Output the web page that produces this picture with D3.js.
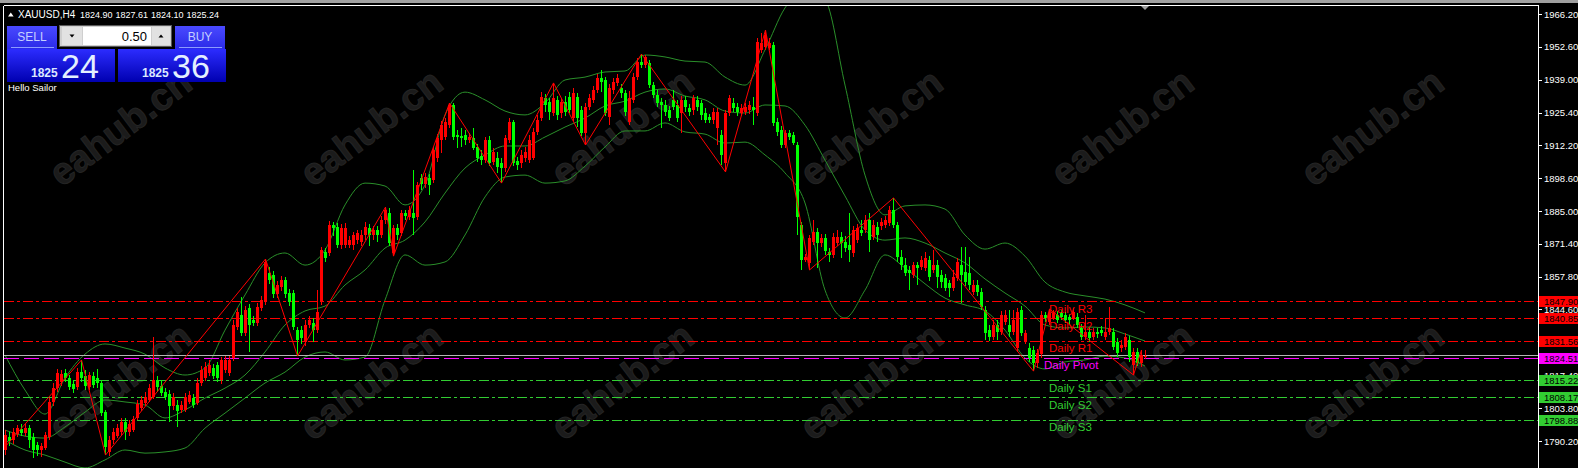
<!DOCTYPE html>
<html><head><meta charset="utf-8">
<script src="https://cdn.jsdelivr.net/npm/d3@7"></script>
<style>
html,body{margin:0;padding:0;background:#000;overflow:hidden}
svg{display:block}
text{font-family:"Liberation Sans",Arial,sans-serif}
</style></head><body>
<svg id="c" width="1578" height="468"></svg>
<script>
// ---------------- DATA ----------------
const symbol = "XAUUSD,H4";
const lastOHLC = [1824.90, 1827.61, 1824.10, 1825.24];
const bidPrice = 1825.24;
const lotSize = "0.50";
const sellQuote = ["1825", "24"];
const buyQuote = ["1825", "36"];
const panelCaption = "Hello Sailor";

// H4 candles, [open, high, low, close]
const ohlc = [
[1786.5,1794.7,1784.4,1792.7],[1791.8,1793.9,1788.1,1790.2],[1790.6,1795.5,1789.0,1793.9],[1793.1,1796.8,1791.8,1795.5],[1795.1,1797.2,1792.2,1793.5],
[1793.5,1797.2,1792.2,1795.5],[1795.5,1796.8,1787.3,1790.6],[1791.8,1793.5,1783.2,1786.5],[1788.5,1789.8,1784.0,1786.5],[1786.5,1789.4,1783.6,1788.1],
[1787.3,1793.9,1786.5,1792.7],[1791.8,1807.9,1790.6,1806.3],[1806.3,1814.1,1804.6,1812.0],[1812.0,1819.9,1810.4,1818.2],[1814.5,1819.5,1812.9,1817.8],
[1818.2,1819.9,1814.5,1816.2],[1816.2,1817.4,1811.2,1812.4],[1813.7,1815.3,1810.0,1811.6],[1812.4,1820.3,1811.2,1818.6],[1818.6,1823.6,1814.5,1816.2],
[1817.0,1819.5,1811.2,1812.9],[1812.4,1818.6,1811.2,1817.4],[1817.0,1818.6,1812.0,1813.3],[1816.2,1819.9,1812.0,1814.1],[1814.1,1815.3,1800.5,1801.7],
[1802.1,1803.0,1784.4,1787.7],[1785.7,1792.2,1784.0,1790.6],[1790.6,1795.5,1789.0,1793.9],[1792.2,1797.2,1791.4,1795.5],[1793.9,1799.7,1792.7,1798.0],
[1798.0,1799.7,1790.6,1793.9],[1793.9,1798.9,1792.2,1797.2],[1794.7,1800.5,1793.9,1799.3],[1799.7,1807.1,1798.9,1805.4],[1803.8,1808.7,1802.6,1807.1],
[1805.9,1810.4,1804.6,1808.3],[1807.1,1813.7,1806.3,1812.0],[1808.3,1833.1,1807.5,1815.3],[1815.3,1817.0,1810.4,1812.4],[1812.9,1815.3,1808.7,1810.0],
[1810.4,1812.0,1807.1,1808.3],[1809.6,1811.2,1798.0,1804.6],[1804.6,1810.0,1803.0,1808.3],[1805.0,1807.1,1796.0,1802.6],[1803.0,1806.7,1801.7,1805.0],
[1803.0,1810.0,1802.1,1808.3],[1806.3,1810.8,1805.4,1809.2],[1807.9,1809.6,1803.8,1805.0],[1805.9,1816.2,1805.0,1814.1],[1814.1,1821.1,1812.9,1819.5],
[1816.2,1822.8,1814.9,1820.7],[1818.2,1823.6,1817.0,1821.5],[1820.3,1821.9,1815.7,1817.0],[1821.5,1822.8,1814.5,1816.2],[1815.3,1824.8,1813.7,1823.6],
[1819.5,1825.2,1818.2,1823.6],[1818.2,1825.2,1817.0,1823.6],[1824.4,1840.1,1823.2,1838.0],[1837.2,1845.0,1835.9,1843.4],[1842.0,1849.6,1833.5,1834.7],
[1834.7,1845.8,1833.5,1844.2],[1845.0,1846.7,1826.9,1838.0],[1840.1,1841.7,1837.6,1838.8],[1838.8,1847.1,1837.6,1845.4],[1845.0,1850.0,1843.8,1848.3],
[1847.5,1865.2,1846.3,1864.0],[1859.4,1861.9,1854.9,1856.6],[1858.6,1860.3,1849.1,1850.8],[1850.8,1856.1,1849.1,1854.5],[1853.7,1858.2,1852.0,1856.6],
[1856.6,1857.8,1849.1,1850.8],[1851.2,1852.8,1845.8,1847.5],[1851.2,1852.4,1835.9,1837.2],[1835.9,1837.2,1825.2,1831.8],[1835.9,1837.6,1830.2,1832.6],
[1831.0,1840.1,1829.3,1838.0],[1838.0,1841.7,1836.8,1840.1],[1838.8,1840.9,1831.0,1835.9],[1835.9,1852.4,1834.7,1843.4],[1847.5,1870.2,1846.3,1868.9],
[1868.1,1869.7,1864.0,1865.6],[1867.7,1880.9,1866.4,1879.2],[1879.2,1880.5,1874.7,1878.0],[1878.4,1880.1,1869.7,1871.0],[1871.0,1879.6,1869.3,1878.0],
[1871.0,1880.1,1869.7,1878.0],[1871.0,1874.7,1869.7,1873.0],[1871.0,1876.3,1868.9,1875.1],[1873.0,1877.2,1871.4,1875.9],[1872.2,1877.2,1870.6,1875.1],
[1875.1,1880.5,1873.0,1878.4],[1878.0,1879.6,1870.6,1875.1],[1875.1,1878.8,1873.0,1877.2],[1877.2,1878.8,1872.2,1875.1],[1875.1,1882.9,1873.9,1881.3],
[1881.3,1886.6,1879.6,1885.4],[1884.2,1886.2,1870.6,1871.8],[1867.7,1879.2,1866.4,1878.0],[1878.0,1879.6,1873.0,1875.1],[1875.9,1885.4,1874.7,1884.2],
[1884.2,1885.4,1881.3,1883.0],[1882.6,1887.1,1881.3,1885.4],[1884.2,1901.9,1875.1,1882.1],[1882.6,1897.0,1881.3,1895.7],[1898.6,1900.2,1893.6,1896.1],
[1896.1,1900.6,1894.5,1899.0],[1898.6,1900.2,1891.6,1895.7],[1897.8,1911.4,1896.5,1910.1],[1906.8,1916.7,1905.2,1915.1],[1914.3,1922.1,1908.9,1920.4],
[1915.5,1923.3,1914.3,1921.7],[1920.4,1929.5,1919.2,1928.7],[1928.7,1929.5,1914.3,1915.5],[1916.3,1918.4,1911.0,1915.5],[1915.9,1919.2,1911.4,1915.1],
[1916.3,1918.4,1912.2,1914.3],[1914.3,1917.2,1913.0,1915.5],[1915.1,1919.2,1910.1,1911.0],[1911.4,1912.6,1905.2,1906.8],[1907.6,1910.1,1904.0,1906.0],
[1906.0,1915.5,1904.8,1914.3],[1914.3,1915.9,1903.6,1904.8],[1905.2,1911.0,1904.0,1909.3],[1906.8,1909.3,1900.7,1903.1],[1904.8,1906.8,1896.5,1902.7],
[1902.7,1916.3,1901.1,1915.1],[1914.3,1923.3,1913.0,1921.7],[1921.7,1922.5,1903.6,1904.8],[1905.6,1907.3,1901.9,1904.0],[1904.8,1910.1,1902.7,1908.1],
[1906.8,1911.4,1905.2,1909.3],[1906.0,1916.3,1904.8,1914.3],[1906.8,1919.2,1906.0,1917.6],[1917.6,1924.6,1916.3,1922.5],[1923.3,1934.0,1922.1,1932.0],
[1931.6,1933.2,1925.8,1928.7],[1929.9,1931.6,1922.5,1925.8],[1925.4,1937.8,1924.2,1931.6],[1930.8,1932.4,1922.5,1924.6],[1925.4,1931.6,1923.3,1929.9],
[1929.9,1932.4,1924.2,1925.8],[1932.0,1934.0,1925.4,1926.6],[1923.3,1935.7,1922.1,1933.6],[1932.0,1933.6,1919.6,1923.3],[1926.6,1928.3,1915.9,1917.1],
[1917.1,1929.5,1912.2,1927.9],[1927.9,1933.2,1926.6,1931.6],[1930.8,1936.6,1929.5,1934.9],[1934.9,1941.5,1933.6,1939.8],[1939.8,1943.1,1934.0,1938.2],
[1939.0,1940.3,1924.2,1925.4],[1923.7,1937.3,1920.4,1935.7],[1934.9,1939.8,1933.2,1938.2],[1937.8,1941.5,1936.5,1939.8],[1935.7,1937.3,1931.6,1933.6],
[1933.6,1934.9,1924.2,1925.8],[1921.7,1934.5,1920.4,1931.6],[1930.8,1941.9,1929.5,1940.2],[1940.2,1948.1,1939.0,1946.4],[1946.4,1949.7,1944.0,1945.2],
[1945.2,1949.3,1944.0,1948.5],[1946.0,1947.2,1935.7,1936.9],[1936.9,1938.2,1931.6,1932.8],[1932.8,1934.9,1927.9,1929.5],[1929.9,1931.6,1919.2,1928.7],
[1928.7,1930.8,1924.2,1925.8],[1926.6,1928.3,1922.1,1923.3],[1930.8,1934.9,1926.6,1927.9],[1928.7,1930.8,1921.7,1923.3],[1925.4,1932.4,1917.1,1930.8],
[1930.8,1932.4,1925.8,1927.9],[1927.5,1929.1,1924.2,1925.8],[1926.6,1932.8,1924.6,1931.6],[1930.8,1932.4,1926.2,1927.9],[1929.5,1930.8,1922.5,1924.6],
[1925.4,1927.5,1921.3,1922.5],[1923.7,1925.0,1921.3,1922.5],[1922.5,1927.5,1920.9,1925.8],[1919.2,1927.5,1912.2,1925.8],[1916.3,1918.4,1904.0,1908.1],
[1904.8,1926.6,1901.1,1925.4],[1925.4,1932.8,1924.2,1931.6],[1929.5,1931.6,1925.8,1927.5],[1927.9,1929.5,1924.2,1925.8],[1925.4,1929.1,1924.2,1927.5],
[1925.8,1929.5,1924.6,1927.9],[1926.6,1930.3,1925.0,1928.7],[1927.9,1932.0,1920.4,1926.6],[1925.4,1956.3,1924.2,1954.7],[1951.4,1958.4,1950.1,1954.2],
[1952.6,1959.6,1951.4,1957.5],[1952.2,1956.3,1951.4,1954.2],[1953.4,1954.7,1920.0,1921.3],[1921.7,1923.3,1915.9,1917.6],[1918.4,1920.0,1911.0,1912.2],
[1912.2,1918.4,1911.0,1917.1],[1917.1,1918.4,1914.3,1915.5],[1916.3,1917.6,1912.2,1913.0],[1912.2,1913.4,1875.1,1882.5],[1879.2,1880.5,1860.7,1864.8],
[1864.8,1867.3,1864.0,1866.0],[1863.6,1875.1,1860.7,1873.9],[1872.2,1881.3,1871.0,1876.3],[1876.3,1878.0,1861.5,1871.8],[1871.8,1875.5,1870.2,1873.9],
[1873.9,1875.5,1866.8,1868.5],[1868.1,1869.7,1864.0,1866.9],[1867.0,1876.0,1865.6,1874.3],[1871.8,1877.2,1870.6,1874.3],[1874.3,1876.3,1865.6,1871.8],
[1872.2,1874.7,1868.1,1869.7],[1871.0,1884.2,1864.0,1868.9],[1867.7,1878.8,1866.0,1877.2],[1873.0,1879.6,1871.8,1878.0],[1877.2,1881.3,1874.7,1875.9],
[1877.2,1883.4,1875.9,1881.3],[1881.3,1884.2,1868.1,1873.0],[1874.3,1881.3,1873.0,1879.2],[1878.4,1880.5,1872.2,1875.1],[1878.8,1882.1,1877.2,1880.5],
[1879.2,1882.9,1878.0,1881.3],[1880.1,1887.1,1878.8,1885.4],[1885.4,1890.4,1878.0,1879.2],[1879.2,1880.5,1864.0,1866.0],[1866.0,1868.9,1860.7,1862.7],
[1862.7,1865.6,1858.2,1859.4],[1860.7,1862.3,1852.4,1859.4],[1858.6,1864.0,1857.4,1862.7],[1862.7,1864.0,1854.5,1861.5],[1861.9,1866.4,1860.7,1864.8],
[1861.5,1868.1,1860.3,1865.6],[1864.8,1866.4,1856.1,1857.8],[1860.7,1868.9,1859.4,1862.7],[1862.7,1864.8,1853.2,1857.8],[1858.6,1860.7,1853.2,1855.7],
[1857.4,1859.0,1852.0,1853.4],[1855.3,1856.6,1849.6,1853.2],[1853.2,1860.7,1852.0,1857.8],[1857.4,1865.6,1856.1,1864.0],[1862.7,1870.2,1847.1,1858.6],
[1859.9,1870.2,1854.1,1855.7],[1859.4,1866.0,1852.4,1854.5],[1851.6,1856.6,1850.4,1854.5],[1854.5,1856.6,1850.0,1851.6],[1851.6,1853.2,1844.2,1845.4],
[1844.2,1845.8,1831.8,1834.7],[1835.9,1838.0,1831.4,1833.1],[1833.1,1840.1,1831.8,1838.0],[1838.0,1840.1,1831.8,1835.1],[1835.1,1843.8,1833.9,1842.1],
[1839.2,1844.2,1838.0,1842.1],[1838.0,1844.2,1833.1,1835.1],[1835.1,1844.2,1833.9,1840.1],[1828.5,1845.0,1826.9,1843.4],[1844.2,1845.8,1833.5,1834.7],
[1831.0,1835.9,1830.2,1834.7],[1828.7,1830.4,1822.8,1824.4],[1827.7,1829.3,1819.0,1822.3],[1822.3,1828.1,1820.3,1826.4],[1826.0,1843.8,1824.4,1842.1],
[1842.1,1843.4,1839.2,1840.9],[1839.2,1844.6,1838.0,1843.0],[1840.9,1844.2,1840.1,1843.0],[1842.1,1843.8,1838.8,1840.1],[1843.0,1844.2,1840.1,1841.3],
[1842.1,1843.4,1838.8,1840.1],[1841.3,1842.6,1838.4,1840.1],[1840.9,1845.0,1840.1,1843.4],[1841.3,1843.0,1836.8,1838.0],[1836.8,1838.4,1831.8,1833.1],
[1833.1,1842.1,1831.8,1835.1],[1835.1,1836.8,1831.0,1832.6],[1833.1,1836.8,1831.8,1835.1],[1835.1,1836.8,1832.6,1834.3],[1835.9,1837.6,1833.5,1834.7],
[1833.1,1840.9,1831.8,1835.1],[1835.1,1845.4,1833.9,1836.8],[1835.1,1836.8,1827.7,1828.9],[1831.0,1832.6,1824.8,1826.4],[1828.5,1831.8,1826.9,1829.7],
[1828.9,1834.7,1827.7,1833.1],[1831.8,1833.5,1822.8,1824.8],[1821.5,1828.5,1817.4,1826.9],[1826.9,1828.5,1821.1,1822.3],[1822.3,1827.7,1820.7,1825.6],
[1824.90,1827.61,1824.10,1825.24]
];

// Bollinger bands read at every 5th bar
const bandIndex = [0,5,10,15,20,25,30,35,40,45,50,55,60,65,70,75,80,85,90,95,100,105,110,115,120,125,130,135,140,145,150,155,160,165,170,175,180,185,190,195,200,205,210,215,220,225,230,235,240,245,250,255,260,265,270,275,280,285];
const bandUpper = [1825.6,1811.2,1801.3,1816.2,1826.0,1830.2,1828.5,1826.0,1820.3,1817.4,1820.3,1835.9,1850.4,1863.6,1867.7,1862.7,1868.9,1887.5,1896.5,1895.3,1887.5,1895.7,1924.6,1934.0,1930.8,1926.2,1924.6,1929.5,1939.0,1940.2,1942.3,1942.7,1949.3,1948.5,1946.8,1946.4,1940.2,1936.9,1951.4,1968.7,1976.1,1972.0,1936.9,1899.8,1883.4,1887.1,1887.5,1885.8,1875.1,1869.3,1871.8,1866.4,1855.7,1851.6,1850.0,1848.7,1846.3,1843.0];
const bandMiddle = [1794.7,1792.2,1791.4,1796.0,1802.1,1807.1,1806.3,1805.0,1799.7,1803.0,1807.9,1812.0,1817.4,1826.9,1838.0,1843.8,1845.8,1854.5,1860.7,1869.7,1873.0,1880.5,1892.4,1902.7,1908.1,1911.8,1911.8,1915.5,1919.6,1923.3,1928.3,1930.3,1934.0,1935.3,1932.4,1930.8,1926.2,1925.4,1928.7,1928.3,1920.4,1906.0,1891.2,1877.2,1873.0,1873.9,1871.8,1867.7,1863.6,1857.0,1851.2,1845.8,1838.0,1836.8,1837.2,1836.8,1834.3,1831.4];
const bandLower = [1790.6,1786.5,1784.4,1781.5,1779.1,1782.4,1786.5,1785.2,1785.7,1787.3,1795.5,1801.7,1807.9,1814.1,1818.6,1824.8,1826.9,1823.6,1824.8,1848.3,1866.9,1862.7,1864.0,1875.1,1890.8,1899.0,1899.8,1896.5,1897.4,1903.5,1911.4,1918.0,1918.0,1921.3,1917.6,1916.7,1913.0,1913.4,1908.1,1900.7,1888.3,1852.4,1840.9,1852.4,1866.9,1861.5,1855.0,1849.1,1846.3,1843.8,1835.9,1824.4,1819.9,1822.8,1823.6,1825.2,1824.4,1821.1];

// ZigZag pivots [bar index, price]
const zigzag = [[0,1788.0],[19,1823.6],[25,1784.4],[65,1865.2],[73,1825.2],[95,1886.6],[97,1866.4],[111,1929.5],[124,1896.5],[137,1937.8],[145,1912.2],[159,1949.7],[180,1901.1],[190,1959.6],[201,1860.7],[222,1890.4],[257,1819.0],[261,1844.6],[282,1817.4],[284,1827.7]];

// Daily pivot levels
const pivotNames = ["Daily R3","Daily R2","Daily R1","Daily Pivot","Daily S1","Daily S2","Daily S3"];
const pivotValues = [1847.90,1840.85,1831.56,1824.51,1815.22,1808.17,1798.88];

// price axis tick labels
const tickValues = [1966.20,1952.60,1939.00,1925.40,1912.20,1898.60,1885.00,1871.40,1857.80,1844.60,1831.00,1817.40,1803.80,1790.20];

// ---------------- DRAW ----------------
const W = 1578, H = 468;
const AXIS_X = 1538;
const svg = d3.select('#c');
const x = d3.scaleLinear().domain([0, ohlc.length - 1]).range([5, 1145]);
const y = d3.scaleLinear().domain([1790.2, 1966.2]).range([441, 14]);

const levelColor = n => n.includes('Pivot') ? '#ff00ff' : (n.includes(' R') ? '#ff0000' : '#32cd32');
const levelDash = n => n.includes('Pivot') ? '15,5' : '10,3,3,3';

const defs = svg.append('defs');
defs.append('clipPath').attr('id', 'plot').append('rect')
  .attr('x', 4).attr('y', 6).attr('width', AXIS_X - 4).attr('height', H - 6);
function grad(id, c1, c2) {
  const g = defs.append('linearGradient').attr('id', id).attr('x1', 0).attr('y1', 0).attr('x2', 0).attr('y2', 1);
  g.append('stop').attr('offset', '0%').attr('stop-color', c1);
  g.append('stop').attr('offset', '100%').attr('stop-color', c2);
}
grad('btnG', '#4a4aff', '#2a2ae8');
grad('priceG', '#2c2cff', '#0000b0');

svg.append('rect').attr('width', W).attr('height', H).attr('fill', '#000');
svg.append('rect').attr('x', 0).attr('y', 0).attr('width', W).attr('height', 3).attr('fill', '#a0a0a0');

const plot = svg.append('g').attr('clip-path', 'url(#plot)');

// watermarks
const wmCols = [120, 371, 622, 871, 1122, 1372], wmRows = [127, 381];
wmRows.forEach(r => wmCols.forEach(c => {
  plot.append('text').attr('transform', `translate(${c},${r}) rotate(-37)`)
    .attr('text-anchor', 'middle').attr('dy', '0.35em')
    .attr('font-size', 38).attr('font-weight', 'bold')
    .attr('fill', '#1b1b1b').attr('stroke', '#242424').attr('stroke-width', 1)
    .text('eahub.cn');
}));

// bollinger bands
const bandLine = d3.line().x((d, k) => x(bandIndex[k])).y(d => y(d)).curve(d3.curveMonotoneX);
[bandUpper, bandMiddle, bandLower].forEach(b => {
  plot.append('path').datum(b).attr('d', bandLine)
    .attr('fill', 'none').attr('stroke', '#2a8f2a').attr('stroke-width', 1);
});

// pivot lines
plot.selectAll('line.lvl').data(pivotValues).join('line').attr('class', 'lvl')
  .attr('x1', 4).attr('x2', AXIS_X)
  .attr('y1', d => Math.round(y(d)) + 0.5).attr('y2', d => Math.round(y(d)) + 0.5)
  .attr('stroke', (d, i) => levelColor(pivotNames[i]))
  .attr('stroke-dasharray', (d, i) => levelDash(pivotNames[i]))
  .attr('stroke-width', 1).attr('shape-rendering', 'crispEdges');

// bid line
plot.append('line').attr('x1', 4).attr('x2', AXIS_X)
  .attr('y1', Math.round(y(bidPrice)) - 0.5).attr('y2', Math.round(y(bidPrice)) - 0.5)
  .attr('stroke', '#b4b4b4').attr('stroke-width', 1).attr('shape-rendering', 'crispEdges');

// candles
const cg = plot.append('g').attr('shape-rendering', 'crispEdges');
const col = d => d[3] >= d[0] ? '#ff0000' : '#00ff00';
cg.selectAll('rect.wick').data(ohlc).join('rect').attr('class', 'wick')
  .attr('x', (d, i) => Math.round(x(i)))
  .attr('y', d => Math.round(y(d[1])))
  .attr('width', 1)
  .attr('height', d => Math.max(1, Math.round(y(d[2])) - Math.round(y(d[1]))))
  .attr('fill', col);
cg.selectAll('rect.body').data(ohlc).join('rect').attr('class', 'body')
  .attr('x', (d, i) => Math.round(x(i)) - 1)
  .attr('y', d => Math.round(y(Math.max(d[0], d[3]))))
  .attr('width', 3)
  .attr('height', d => Math.max(1, Math.round(y(Math.min(d[0], d[3]))) - Math.round(y(Math.max(d[0], d[3])))))
  .attr('fill', col);

// zigzag
plot.append('path').datum(zigzag)
  .attr('d', d3.line().x(d => x(d[0]) + 0.5).y(d => y(d[1])))
  .attr('fill', 'none').attr('stroke', '#ff0000').attr('stroke-width', 1);

// pivot labels
plot.selectAll('text.lvl').data(pivotValues).join('text').attr('class', 'lvl')
  .attr('x', (d, i) => pivotNames[i].includes('Pivot') ? 1044 : 1049)
  .attr('y', d => y(d) + 11.5)
  .attr('font-size', 11.5)
  .attr('fill', (d, i) => levelColor(pivotNames[i]))
  .text((d, i) => pivotNames[i]);

// chart shift marker
svg.append('path').attr('d', 'M1140,5 L1150,5 L1145,10 Z').attr('fill', '#a0a0a0');

// frame
const frame = svg.append('g').attr('stroke', '#ffffff').attr('stroke-width', 1).attr('shape-rendering', 'crispEdges');
frame.append('line').attr('x1', 3.5).attr('x2', AXIS_X + 0.5).attr('y1', 5.5).attr('y2', 5.5);
frame.append('line').attr('x1', 3.5).attr('x2', 3.5).attr('y1', 5.5).attr('y2', H);
frame.append('line').attr('x1', AXIS_X + 0.5).attr('x2', AXIS_X + 0.5).attr('y1', 5.5).attr('y2', H);

// price axis
const ax = svg.append('g');
ax.selectAll('line').data(tickValues).join('line')
  .attr('x1', AXIS_X + 1).attr('x2', AXIS_X + 4)
  .attr('y1', d => Math.round(y(d)) + 0.5).attr('y2', d => Math.round(y(d)) + 0.5)
  .attr('stroke', '#fff').attr('shape-rendering', 'crispEdges');
ax.selectAll('text').data(tickValues).join('text')
  .attr('x', AXIS_X + 6).attr('y', d => y(d) + 3.5)
  .attr('font-size', 9.5).attr('fill', '#ffffff')
  .text(d => d.toFixed(2));

// level boxes on axis
const bx = svg.append('g');
bx.selectAll('rect').data(pivotValues).join('rect')
  .attr('x', AXIS_X + 1).attr('y', d => Math.round(y(d)) - 5)
  .attr('width', W - AXIS_X - 1).attr('height', 11)
  .attr('fill', (d, i) => levelColor(pivotNames[i]));
bx.selectAll('text').data(pivotValues).join('text')
  .attr('x', AXIS_X + 6).attr('y', d => Math.round(y(d)) + 4)
  .attr('font-size', 9.5).attr('fill', '#000')
  .text(d => d.toFixed(2));

// header
svg.append('path').attr('d', 'M8,16.5 L10.8,12.5 L13.6,16.5 Z').attr('fill', '#fff');
svg.append('text').attr('x', 18).attr('y', 18).attr('font-size', 10).attr('fill', '#fff').text(symbol);
const hx = [80, 115.5, 151, 186.5];
lastOHLC.forEach((v, i) => svg.append('text').attr('x', hx[i]).attr('y', 18)
  .attr('font-size', 9).attr('fill', '#fff').text(v.toFixed(2)));

// one-click trading panel
const p = svg.append('g');
function button(x0, label) {
  p.append('rect').attr('x', x0).attr('y', 26).attr('width', 50).attr('height', 23).attr('fill', 'url(#btnG)');
  p.append('line').attr('x1', x0 + 4).attr('x2', x0 + 47).attr('y1', 47.5).attr('y2', 47.5)
    .attr('stroke', '#8c9cff').attr('shape-rendering', 'crispEdges');
  p.append('text').attr('x', x0 + 25).attr('y', 41).attr('text-anchor', 'middle')
    .attr('font-size', 12).attr('fill', '#c4d0ff').text(label);
}
button(7, 'SELL');
button(175, 'BUY');
p.append('rect').attr('x', 59.5).attr('y', 25.5).attr('width', 112).attr('height', 21)
  .attr('fill', '#cfcfcf').attr('stroke', '#5a5a5a');
p.append('rect').attr('x', 62).attr('y', 27).attr('width', 20).attr('height', 18).attr('fill', '#e2e2e2');
p.append('rect').attr('x', 83).attr('y', 27).attr('width', 68).attr('height', 18).attr('fill', '#ffffff');
p.append('rect').attr('x', 152).attr('y', 27).attr('width', 18).attr('height', 18).attr('fill', '#e2e2e2');
p.append('path').attr('d', 'M69.5,34.5 L74.5,34.5 L72,37.5 Z').attr('fill', '#000');
p.append('path').attr('d', 'M158.5,37.5 L163.5,37.5 L161,34.5 Z').attr('fill', '#000');
p.append('text').attr('x', 147).attr('y', 41).attr('text-anchor', 'end')
  .attr('font-size', 13).attr('fill', '#000').text(lotSize);
function quote(x0, q) {
  p.append('rect').attr('x', x0).attr('y', 49).attr('width', 108).attr('height', 33).attr('fill', 'url(#priceG)');
  p.append('text').attr('x', x0 + 24).attr('y', 77).attr('font-size', 12).attr('font-weight', 'bold')
    .attr('fill', '#dce8ff').text(q[0]);
  p.append('text').attr('x', x0 + 54).attr('y', 77.5).attr('font-size', 34)
    .attr('fill', '#e4f0ff').text(q[1]);
}
quote(7, sellQuote);
quote(118, buyQuote);
p.append('text').attr('x', 8).attr('y', 91).attr('font-size', 9.5).attr('fill', '#fff').text(panelCaption);
</script>
</body></html>
